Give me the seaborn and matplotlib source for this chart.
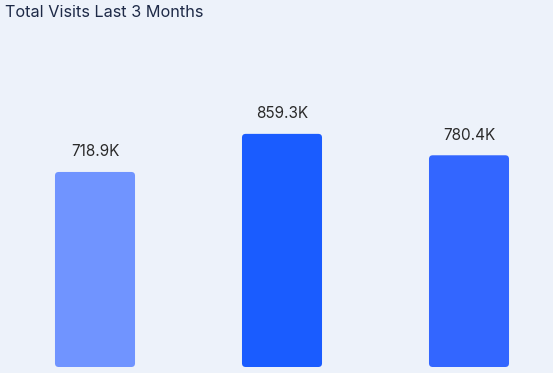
import pandas as pd
import matplotlib
matplotlib.use("Agg")
import matplotlib.pyplot as plt
import seaborn as sns
from matplotlib.patches import FancyBboxPatch

# Data
months = ["Month 1", "Month 2", "Month 3"]
visits_k = [718.9, 859.3, 780.4]
labels = ["718.9K", "859.3K", "780.4K"]
colors = ["#7094FF", "#1A5CFF", "#3366FF"]

df = pd.DataFrame({"Month": months, "Visits": visits_k})

sns.set_style("white")
plt.rcParams["font.family"] = ["Inter", "DejaVu Sans"]

fig = plt.figure(figsize=(5.53, 3.73), dpi=100)
fig.patch.set_facecolor("#EDF2FA")
ax = fig.add_axes([0, 6 / 373, 1, 327 / 373])
ax.set_facecolor("none")

sns.barplot(data=df, x="Month", y="Visits", hue="Month", palette=colors,
            width=0.428, saturation=1, legend=False, ax=ax)

ax.set_xlim(-95 / 187, (553 - 95) / 187)
ax.set_ylim(0, 327 / 0.2713)

# Replace plain bars with rounded ones using the bar geometry seaborn produced
aspect = (1 / 0.2713) / (1 / 187)
for patch, lab in zip(list(ax.patches), labels):
    x, y = patch.get_x(), patch.get_y()
    w, h = patch.get_width(), patch.get_height()
    fc = patch.get_facecolor()
    patch.set_visible(False)
    ax.add_patch(FancyBboxPatch((x, y), w, h,
                                boxstyle="round,pad=0,rounding_size=0.02",
                                mutation_aspect=aspect, facecolor=fc,
                                edgecolor="none"))
    ax.annotate(lab, (x + w / 2, y + h), xytext=(0, 9),
                textcoords="offset points", ha="center", va="bottom",
                fontsize=11, color="#2A2A2A")

ax.set_axis_off()

fig.text(5 / 553, 1 - 5 / 373, "Total Visits Last 3 Months", ha="left", va="top",
         fontsize=11.7, color="#1E2A47")

fig.savefig("out.png", dpi=100, facecolor=fig.get_facecolor())
